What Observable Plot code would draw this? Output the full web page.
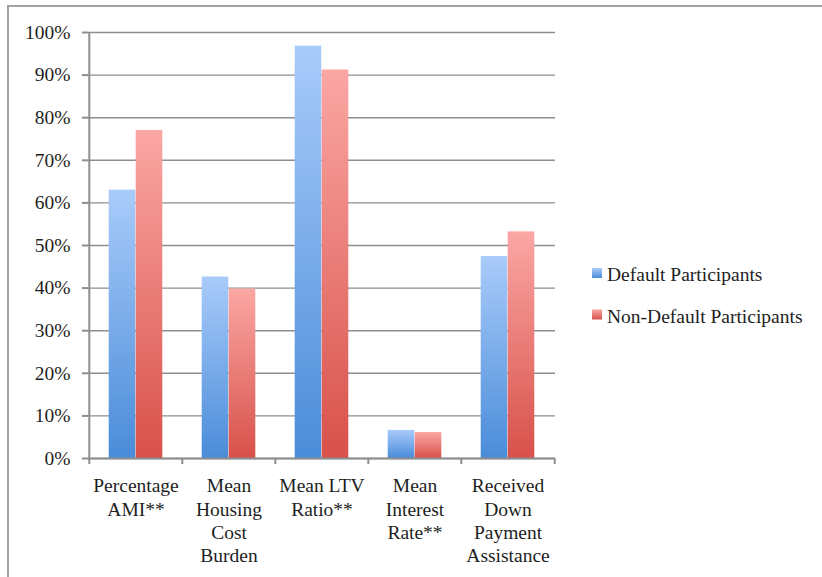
<!DOCTYPE html>
<html>
<head>
<meta charset="utf-8">
<script src="https://cdn.jsdelivr.net/npm/d3@7"></script>
<script src="https://cdn.jsdelivr.net/npm/@observablehq/plot@0.6"></script>
<style>
  html, body { margin: 0; padding: 0; background: #fff; overflow: hidden; }
  #wrap { position: relative; width: 822px; height: 577px; }
  #border {
    position: absolute; left: 7px; top: 5px; width: 900px; height: 700px;
    border-left: 2px solid #a2a2a2; border-top: 2px solid #a2a2a2;
  }
  #chart { position: absolute; left: 0; top: 0; }
</style>
</head>
<body>
<div id="wrap">
  <div id="border"></div>
  <div id="chart"></div>
</div>
<script>
// Categories (line breaks are the wrapped axis labels)
const categories = [
  "Percentage\nAMI**",
  "Mean\nHousing\nCost\nBurden",
  "Mean LTV\nRatio**",
  "Mean\nInterest\nRate**",
  "Received\nDown\nPayment\nAssistance"
];
const seriesNames = ["Default Participants", "Non-Default Participants"];
const defaultValues = [0.63, 0.426, 0.968, 0.066, 0.474];
const nonDefaultValues = [0.77, 0.398, 0.912, 0.061, 0.532];
const yTicks = [0, 0.1, 0.2, 0.3, 0.4, 0.5, 0.6, 0.7, 0.8, 0.9, 1];

// Gradient stops per series: [top, bottom]
const seriesGradients = [
  ["#a9cbfa", "#4a8cd9"],
  ["#fba7a4", "#d8514a"]
];

const W = 822, H = 577;
const mL = 88, mR = 267, mT = 32, mB = 119;
const bandW = (W - mL - mR) / categories.length;
const barW = 27;
const pad = (bandW - 2 * barW) / 2;

const font = "'Liberation Serif', 'Times New Roman', serif";
const axisGray = "#8e8e8e";
const ink = "#1e1e1e";

const series = [defaultValues, nonDefaultValues].map((vals, i) =>
  categories.map((c, j) => ({category: c, series: seriesNames[i], value: vals[j]}))
);

const plot = Plot.plot({
  width: W,
  height: H,
  marginLeft: mL,
  marginRight: mR,
  marginTop: mT,
  marginBottom: mB,
  style: {fontFamily: font, fontSize: "19.5px", color: ink, background: "transparent", overflow: "visible"},
  x: {type: "band", domain: categories, padding: 0, axis: null, label: null},
  y: {domain: [0, 1], axis: null, label: null},
  marks: [
    Plot.gridY(yTicks, {stroke: axisGray, strokeOpacity: 1, strokeWidth: 1.4}),
    Plot.barY(series[0], {
      x: "category", y: "value", fill: "url(#grad-0)",
      insetLeft: pad, insetRight: pad + barW
    }),
    Plot.barY(series[1], {
      x: "category", y: "value", fill: "url(#grad-1)",
      insetLeft: pad + barW, insetRight: pad
    }),
    Plot.ruleY([0], {stroke: axisGray, strokeWidth: 2}),
    Plot.ruleX([categories[0]], {dx: -bandW / 2, stroke: axisGray, strokeWidth: 2}),
    Plot.axisY(yTicks, {
      tickFormat: d3.format(".0%"), tickSize: 6, tickPadding: 12, label: null,
      stroke: axisGray, strokeWidth: 2, fill: ink, fontSize: 19.5
    }),
    // separator ticks at the band boundaries
    Plot.axisX(categories, {dx: -bandW / 2, tickSize: 6, tickFormat: () => "", label: null, stroke: axisGray, strokeWidth: 2}),
    Plot.axisX([categories[categories.length - 1]], {dx: bandW / 2, tickSize: 6, tickFormat: () => "", label: null, stroke: axisGray, strokeWidth: 2}),
    Plot.text(categories, {
      x: d => d, frameAnchor: "bottom", lineAnchor: "top", dy: 17,
      lineHeight: 1.2, textAnchor: "middle", fill: ink, fontSize: 19.5
    })
  ]
});

// Vertical gradients for the bars and legend swatches
const svg = d3.select(plot);
const defs = svg.insert("defs", ":first-child");
seriesGradients.forEach((stops, i) => {
  const g = defs.append("linearGradient")
    .attr("id", `grad-${i}`)
    .attr("x1", 0).attr("y1", 0).attr("x2", 0).attr("y2", 1);
  g.append("stop").attr("offset", "0%").attr("stop-color", stops[0]);
  g.append("stop").attr("offset", "100%").attr("stop-color", stops[1]);
});

// Legend to the right of the plot area
const legend = svg.append("g")
  .attr("font-family", font).attr("font-size", 19.5)
  .attr("fill", ink).attr("text-anchor", "start");
seriesNames.forEach((name, i) => {
  const row = legend.append("g").attr("transform", `translate(592,${268 + i * 41.5})`);
  row.append("rect").attr("width", 10).attr("height", 10).attr("fill", `url(#grad-${i})`);
  row.append("text").attr("x", 15).attr("y", 13).attr("text-anchor", "start").text(name);
});

document.getElementById("chart").appendChild(plot);
</script>
</body>
</html>
